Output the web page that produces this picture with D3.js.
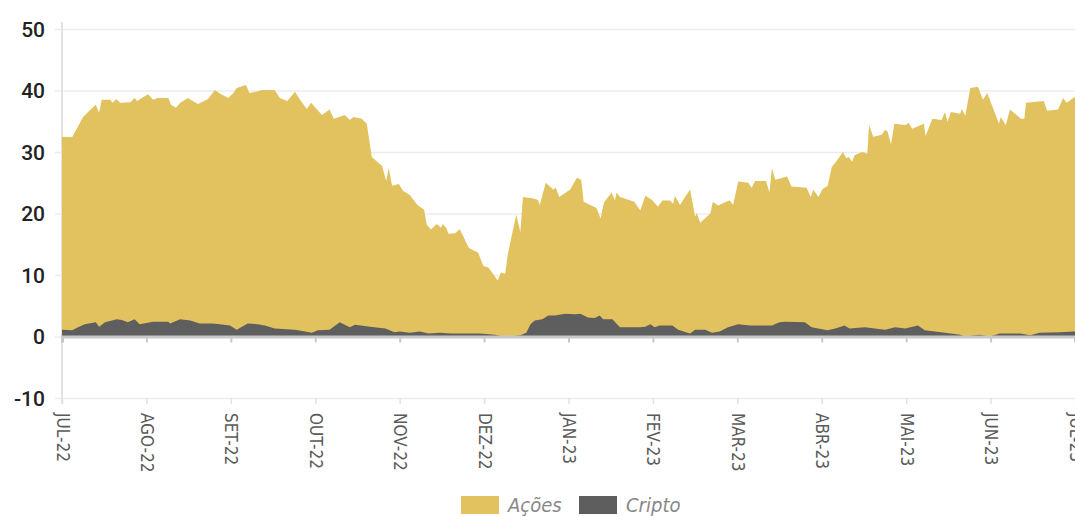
<!DOCTYPE html>
<html>
<head>
<meta charset="utf-8">
<script src="https://cdn.jsdelivr.net/npm/d3@7"></script>
<style>
  body { margin: 0; background: #fff; }
  svg { display: block; }
  .narrow { font-family: "Liberation Sans Narrow", "DejaVu Sans Condensed", "Roboto Condensed", sans-serif; }
</style>
</head>
<body>
<svg id="chart" width="1075" height="516"></svg>
<script>
// meses desde JUL-22 (posição fracionária) e valor
const meses = ["JUL-22", "AGO-22", "SET-22", "OUT-22", "NOV-22", "DEZ-22", "JAN-23",
               "FEV-23", "MAR-23", "ABR-23", "MAI-23", "JUN-23", "JUL-23"];
const yTicks = [-10, 0, 10, 20, 30, 40, 50];

const acoes = [
  [0, 32.5], [0.12, 32.4], [0.25, 35.7], [0.33, 36.8], [0.40, 37.7], [0.44, 36.4], [0.47, 38.5],
  [0.57, 38.5], [0.60, 38.0], [0.64, 38.6], [0.69, 38.0], [0.81, 38.1], [0.86, 38.8], [0.89, 38.3],
  [0.96, 38.9], [1.02, 39.4], [1.08, 38.5], [1.13, 38.8], [1.18, 38.8], [1.26, 38.8], [1.29, 37.7],
  [1.35, 37.2], [1.40, 38.0], [1.49, 38.8], [1.61, 37.8], [1.73, 38.6], [1.81, 40.1], [1.87, 39.5],
  [1.97, 38.8], [2.03, 39.6], [2.07, 40.4], [2.18, 40.9], [2.22, 39.6], [2.30, 39.8], [2.37, 40.1],
  [2.52, 40.1], [2.58, 38.8], [2.67, 38.3], [2.76, 39.8], [2.82, 38.5], [2.90, 37.0], [2.95, 38.0],
  [3.08, 36.0], [3.17, 36.9], [3.22, 35.4], [3.35, 36.0], [3.41, 35.2], [3.45, 35.7], [3.55, 35.4],
  [3.61, 34.6], [3.67, 29.2], [3.76, 28.1], [3.79, 27.8], [3.84, 25.3], [3.87, 27.4], [3.91, 24.5],
  [3.99, 24.8], [4.04, 23.7], [4.12, 23.0], [4.21, 21.4], [4.29, 20.6], [4.32, 18.2], [4.37, 17.4],
  [4.44, 18.3], [4.49, 17.7], [4.51, 18.3], [4.55, 17.7], [4.58, 16.7], [4.66, 16.8], [4.71, 17.5],
  [4.75, 16.4], [4.82, 14.4], [4.93, 13.6], [4.99, 11.5], [5.05, 11.2], [5.12, 9.9], [5.16, 9.1],
  [5.20, 10.4], [5.25, 10.2], [5.28, 13.3], [5.38, 19.8], [5.43, 17.0], [5.46, 22.7], [5.57, 22.5],
  [5.64, 22.2], [5.66, 21.4], [5.73, 25.0], [5.82, 23.9], [5.85, 24.2], [5.89, 22.7], [6.02, 23.9],
  [6.10, 25.8], [6.15, 25.5], [6.18, 21.9], [6.33, 20.9], [6.38, 19.2], [6.42, 21.8], [6.51, 23.4],
  [6.55, 22.1], [6.57, 23.4], [6.61, 22.7], [6.78, 21.9], [6.85, 20.5], [6.91, 22.9], [6.99, 22.2],
  [7.06, 21.1], [7.11, 22.1], [7.20, 22.1], [7.24, 21.6], [7.26, 22.9], [7.32, 21.4], [7.44, 23.9],
  [7.50, 19.5], [7.52, 20.1], [7.56, 18.5], [7.68, 20.0], [7.71, 21.9], [7.77, 21.3], [7.87, 21.9],
  [7.91, 22.1], [7.95, 21.4], [8.01, 25.2], [8.13, 25.0], [8.17, 24.2], [8.21, 25.3], [8.34, 25.3],
  [8.38, 23.4], [8.41, 27.4], [8.45, 25.5], [8.59, 26.0], [8.64, 24.4], [8.82, 24.2], [8.87, 22.7],
  [8.90, 23.9], [8.96, 22.7], [9.01, 24.0], [9.07, 24.5], [9.12, 27.6], [9.17, 28.4], [9.25, 30.0],
  [9.29, 29.0], [9.32, 29.2], [9.36, 28.4], [9.39, 29.5], [9.48, 30.0], [9.54, 29.7], [9.56, 34.4],
  [9.61, 32.5], [9.71, 32.8], [9.75, 33.6], [9.78, 33.3], [9.82, 31.2], [9.86, 34.6], [9.99, 34.4],
  [10.03, 34.7], [10.07, 33.8], [10.21, 34.6], [10.23, 32.6], [10.31, 35.4], [10.42, 35.2],
  [10.46, 36.5], [10.49, 34.9], [10.53, 36.5], [10.64, 36.2], [10.66, 37.0], [10.70, 35.9],
  [10.76, 40.4], [10.85, 40.6], [10.91, 38.5], [10.96, 39.6], [11.10, 34.6], [11.12, 35.7],
  [11.18, 34.4], [11.23, 36.9], [11.36, 35.4], [11.40, 35.4], [11.42, 38.0], [11.63, 38.3],
  [11.67, 36.7], [11.80, 36.9], [11.86, 38.8], [11.90, 38.0], [12.00, 39.0]
];

const cripto = [
  [0, 1.1], [0.12, 1.0], [0.19, 1.5], [0.27, 2.0], [0.40, 2.3], [0.44, 1.6], [0.51, 2.3],
  [0.65, 2.8], [0.71, 2.7], [0.78, 2.3], [0.86, 2.8], [0.92, 2.0], [1.08, 2.4], [1.26, 2.4],
  [1.28, 2.1], [1.40, 2.8], [1.52, 2.6], [1.63, 2.1], [1.79, 2.1], [1.87, 2.0], [1.99, 1.8],
  [2.07, 1.1], [2.20, 2.1], [2.32, 2.0], [2.40, 1.8], [2.52, 1.3], [2.76, 1.1], [2.88, 0.8],
  [2.96, 0.6], [3.03, 1.0], [3.17, 1.1], [3.29, 2.3], [3.41, 1.5], [3.47, 1.9], [3.65, 1.6],
  [3.83, 1.3], [3.94, 0.7], [4.00, 0.8], [4.12, 0.6], [4.24, 0.8], [4.34, 0.5], [4.48, 0.6],
  [4.60, 0.5], [4.95, 0.5], [5.13, 0.3], [5.25, -0.1], [5.31, 0.0], [5.43, 0.2], [5.50, 0.6],
  [5.55, 2.0], [5.60, 2.6], [5.69, 2.8], [5.76, 3.4], [5.84, 3.4], [5.96, 3.7], [6.08, 3.6],
  [6.14, 3.7], [6.23, 3.1], [6.31, 3.0], [6.37, 3.4], [6.41, 2.8], [6.52, 2.8], [6.61, 1.5],
  [6.85, 1.5], [6.91, 1.6], [6.97, 2.0], [7.02, 1.5], [7.08, 1.8], [7.23, 1.8], [7.30, 1.1],
  [7.44, 0.5], [7.50, 1.1], [7.62, 1.1], [7.70, 0.6], [7.79, 0.8], [7.89, 1.5], [8.01, 2.0],
  [8.15, 1.8], [8.27, 1.8], [8.41, 1.8], [8.50, 2.3], [8.56, 2.4], [8.80, 2.3], [8.88, 1.5],
  [9.07, 1.0], [9.16, 1.3], [9.27, 1.8], [9.33, 1.3], [9.51, 1.5], [9.75, 1.1], [9.87, 1.5],
  [9.99, 1.3], [10.14, 1.8], [10.22, 1.0], [10.46, 0.6], [10.64, 0.3], [10.70, 0.0], [10.87, 0.3],
  [10.99, 0.0], [11.11, 0.5], [11.35, 0.5], [11.47, 0.2], [11.58, 0.6], [11.82, 0.7], [12.00, 0.8]
];

const series = [
  { nome: "Ações", cor: "#e2c25f", dados: acoes },
  { nome: "Cripto", cor: "#5e5e5e", dados: cripto }
];

const svg = d3.select("#chart");
const mLeft = 62, mRight = 1075, mTop = 29, mBottom = 398;

const x = d3.scaleLinear().domain([0, 12]).range([mLeft, mRight]);
const y = d3.scaleLinear().domain([-10, 50]).range([mBottom, mTop]);

// grade horizontal
svg.append("g")
    .attr("transform", `translate(${mLeft},0)`)
    .call(d3.axisLeft(y).tickValues(yTicks).tickSize(-(mRight - mLeft) - 8).tickFormat(""))
    .call(g => g.select(".domain").remove())
    .call(g => g.selectAll("line").attr("x1", -7).attr("stroke", "#ececec").attr("stroke-width", 1.5));

// rótulos do eixo y
svg.append("g").selectAll("text")
    .data(yTicks).enter()
    .append("text")
    .attr("x", 45)
    .attr("y", d => y(d))
    .attr("dy", "0.36em")
    .attr("text-anchor", "end")
    .attr("font-family", "Roboto, 'Liberation Sans', sans-serif")
    .attr("font-weight", 500)
    .attr("font-size", 21)
    .attr("fill", "#222")
    .text(d => d);

// eixo y vertical
svg.append("line")
    .attr("x1", mLeft).attr("x2", mLeft)
    .attr("y1", mTop - 7).attr("y2", mBottom + 6)
    .attr("stroke", "#e2e2e2").attr("stroke-width", 2);

// áreas
const area = d3.area()
    .x(d => x(d[0]))
    .y0(y(0))
    .y1(d => y(d[1]));

svg.append("g").selectAll("path")
    .data(series).enter()
    .append("path")
    .attr("d", s => area(s.dados))
    .attr("fill", s => s.cor);

// linha do zero com marcas
const xAxisZero = d3.axisBottom(x).tickValues(d3.range(13)).tickSize(6).tickFormat("");
svg.append("g")
    .attr("transform", `translate(0,${y(0)})`)
    .call(xAxisZero)
    .call(g => g.select(".domain").attr("stroke", "#c8c8c8").attr("stroke-width", 3))
    .call(g => g.selectAll(".tick line").attr("stroke", "#c8c8c8").attr("stroke-width", 2));

// eixo x inferior
svg.append("g")
    .attr("transform", `translate(0,${mBottom})`)
    .call(d3.axisBottom(x).tickValues(d3.range(13)).tickSize(6).tickFormat(i => meses[i]))
    .call(g => g.select(".domain").remove())
    .call(g => g.selectAll(".tick line").attr("stroke", "#e2e2e2").attr("stroke-width", 1.5))
    .call(g => g.selectAll(".tick text")
        .attr("class", "narrow")
        .attr("transform", "rotate(90)")
        .attr("x", 15)
        .attr("y", 0)
        .attr("dy", "0.35em")
        .attr("text-anchor", "start")
        .attr("font-size", 17)
        .attr("fill", "#5a5a5a"));

// legenda
const legend = svg.append("g").attr("transform", "translate(461,496)");
const item = legend.selectAll("g")
    .data(series).enter()
    .append("g")
    .attr("transform", (d, i) => `translate(${i * 118},0)`);
item.append("rect")
    .attr("width", 38).attr("height", 18)
    .attr("fill", d => d.cor);
item.append("text")
    .attr("class", "narrow")
    .attr("x", 47)
    .attr("y", 9)
    .attr("dy", "0.36em")
    .attr("font-size", 20)
    .attr("font-style", "italic")
    .attr("fill", "#888")
    .text(d => d.nome);
</script>
</body>
</html>
